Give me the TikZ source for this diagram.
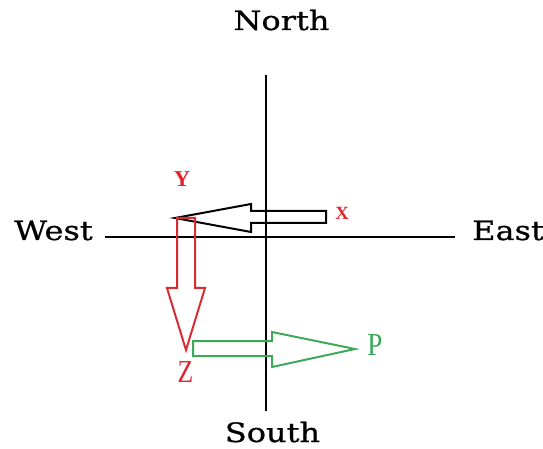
\documentclass[tikz,border=0pt]{standalone}
\usepackage{fontspec}
\newfontfamily\labfont[FakeStretch=1.2,FakeBold=0.8]{DejaVu Serif}
\newfontfamily\letfont{Liberation Serif}
\definecolor{myred}{RGB}{225,35,45}
\definecolor{mygreen}{RGB}{55,170,85}
\definecolor{arrred}{RGB}{215,45,50}
\definecolor{arrgreen}{RGB}{60,170,90}
\begin{document}
\begin{tikzpicture}[x=0.75pt,y=-0.75pt,
  axis/.style={line width=1.5pt,black},
  compass/.style={anchor=base,inner sep=0pt,font=\labfont\fontsize{20}{22}\selectfont},
  letter/.style={anchor=base,inner sep=0pt},
  blockarrow/.style={line width=1.5pt,line join=miter}]
\useasboundingbox (0,0) rectangle (543,449);
% axes
\coordinate (ntop) at (266,75);
\coordinate (sbot) at (266,411);
\coordinate (wleft) at (105,237);
\coordinate (eright) at (455,237);
\draw[axis] (ntop) -- (sbot);
\draw[axis] (wleft) -- (eright);
% compass labels
\node[compass] (north) at (281.5,30) {North};
\node[compass] (south) at (272.5,442) {South};
\node[compass] (west) at (53.5,240) {West};
\node[compass] (east) at (508,240) {East};
% black block arrow X -> Y
\draw[blockarrow,black] (326,211) -- (251,211) -- (251,204) -- (175,218) -- (251,232) -- (251,223) -- (326,223) -- cycle;
% red block arrow Y -> Z
\draw[blockarrow,arrred] (177,218) -- (177,288) -- (167,288) -- (186,350) -- (205,288) -- (195,288) -- (195,218) -- cycle;
% green block arrow Z -> P
\draw[blockarrow,arrgreen] (193,341) -- (272,341) -- (272,332) -- (355,349) -- (272,367) -- (272,356) -- (193,356) -- cycle;
% point letters
\node[letter,text=myred,font=\letfont\bfseries\fontsize{17}{18}\selectfont] (Y) at (182,187) {Y};
\node[letter,text=myred,font=\letfont\bfseries\fontsize{14}{15}\selectfont] (X) at (342,220) {X};
\node[letter,text=myred,font=\letfont\fontsize{24}{26}\selectfont,xscale=0.8] (Z) at (185.5,382) {Z};
\node[letter,text=mygreen,font=\letfont\fontsize{24}{26}\selectfont,xscale=0.85] (P) at (375,355) {P};
\end{tikzpicture}
\end{document}
